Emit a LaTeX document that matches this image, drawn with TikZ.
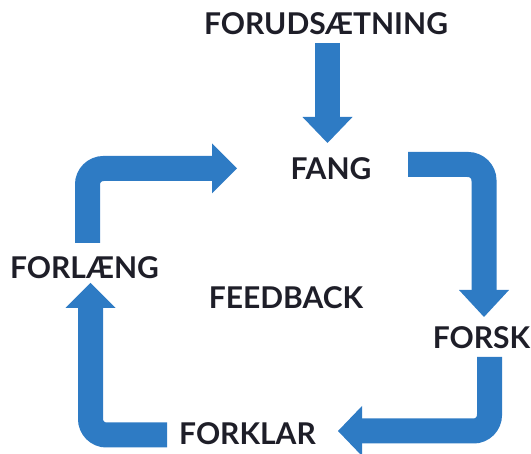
\documentclass[tikz,border=0pt]{standalone}
\usepackage{fontspec}
\setmainfont{Lato}
\usetikzlibrary{arrows.meta}
\definecolor{arrowblue}{RGB}{46,123,196}
\definecolor{textdark}{RGB}{30,30,40}
\begin{document}
\begin{tikzpicture}[x=1pt,y=-1pt,
  lbl/.style={font=\fontsize{30}{30}\selectfont\bfseries, text=textdark, inner sep=0pt, anchor=center},
  flow/.style={draw=arrowblue, line width=25pt, rounded corners=16pt},
  tipA/.style={-{Triangle[length=#1,width=50pt,line width=0pt]}}
]
\useasboundingbox (0,0) rectangle (531,454);
% labels
\node[lbl] (pre) at (326,24) {FORUDSÆTNING};
\node[lbl] (fang) at (331,169) {FANG};
\node[lbl] (forl) at (84.5,267.5) {FORLÆNG};
\node[lbl] (feed) at (286,297.5) {FEEDBACK};
\node[lbl] (forsk) at (481.5,337.5) {FORSK};
\node[lbl] (fork) at (247.5,434) {FORKLAR};
% arrow end points
\coordinate (a1s) at (327.5,43);
\coordinate (a1e) at (327.5,143);
\coordinate (a2s) at (87.5,243);
\coordinate (a2c) at (87.5,168.5);
\coordinate (a2e) at (237,168.5);
\coordinate (a3s) at (408,164.5);
\coordinate (a3c) at (484,164.5);
\coordinate (a3e) at (484,317);
\coordinate (a4s) at (489.5,357);
\coordinate (a4c) at (489.5,431);
\coordinate (a4e) at (338,431);
\coordinate (a5s) at (167,435);
\coordinate (a5c) at (90.5,435);
\coordinate (a5e) at (90.5,283);
% arrows
\draw[flow, tipA=26pt] (a1s) -- (a1e);
\draw[flow, tipA=25pt] (a2s) -- (a2c) -- (a2e);
\draw[flow, tipA=27pt] (a3s) -- (a3c) -- (a3e);
\draw[flow, tipA=24pt] (a4s) -- (a4c) -- (a4e);
\draw[flow, tipA=25pt] (a5s) -- (a5c) -- (a5e);
\end{tikzpicture}
\end{document}
